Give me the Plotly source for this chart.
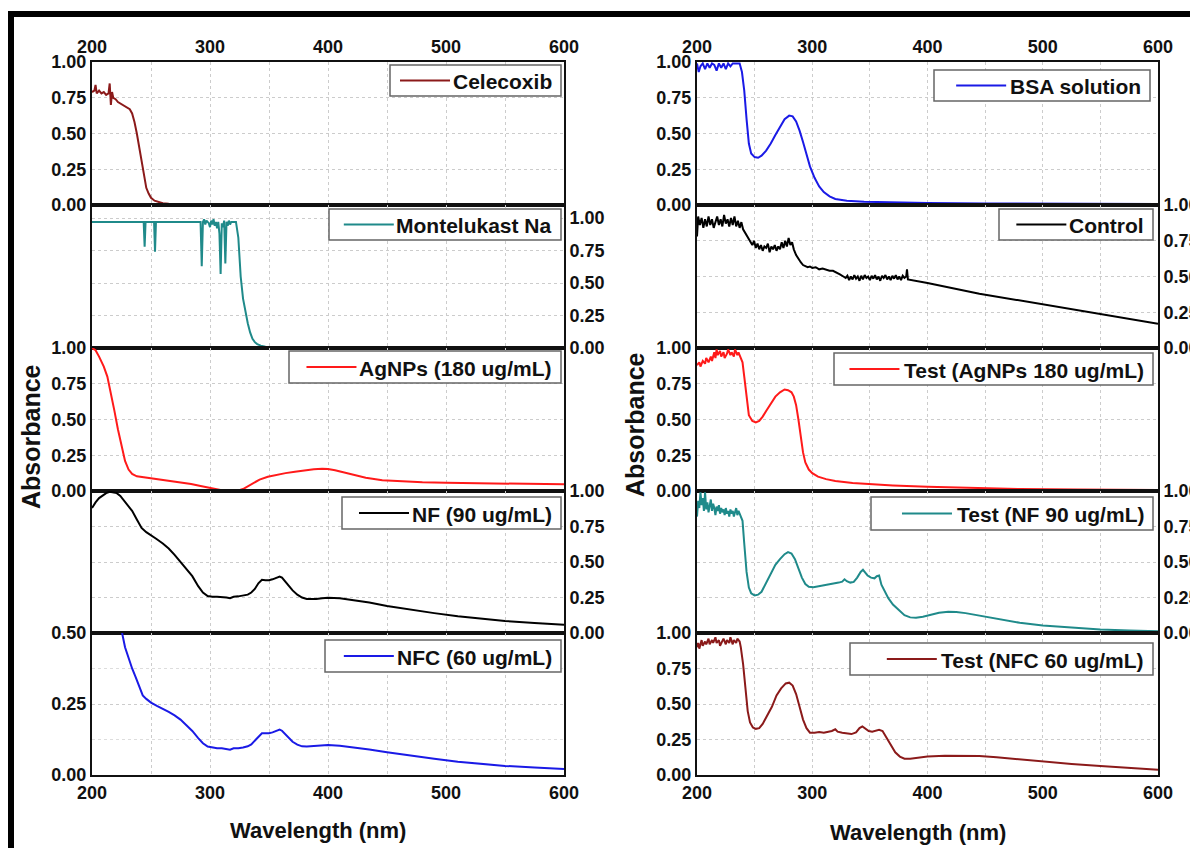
import plotly.graph_objects as go

# ---------------- data: (wavelength nm, absorbance) ----------------
celecoxib = [(200, 0.79), (202, 0.80), (203, 0.84), (204, 0.78), (206, 0.80), (208, 0.78), (210, 0.79),
             (212, 0.77), (214, 0.78), (215, 0.85), (216, 0.70), (217, 0.79), (218, 0.75), (220, 0.74),
             (222, 0.72), (224, 0.71), (226, 0.70), (228, 0.69), (230, 0.68), (232, 0.67), (234, 0.64),
             (236, 0.58), (238, 0.50), (240, 0.40), (242, 0.29), (244, 0.19), (246, 0.12), (248, 0.08),
             (250, 0.05), (253, 0.03), (256, 0.02), (260, 0.012), (265, 0.008), (270, 0.006),
             (300, 0.005), (400, 0.005), (500, 0.005), (600, 0.005)]

montelukast = [(200, 0.97), (243.8, 0.97), (244.6, 0.78), (245.4, 0.97), (252.6, 0.97), (253.4, 0.74),
               (254.2, 0.97), (292, 0.97), (293, 0.63), (294, 0.97), (295, 0.99), (296, 0.95), (297, 0.98),
               (299, 0.96), (300, 0.93), (301, 0.98), (302, 0.95), (303, 0.99), (304, 0.94), (305, 0.97),
               (306, 0.92), (307, 0.97), (308, 0.88), (309, 0.57), (310, 0.96), (311, 0.93), (312, 0.98),
               (313, 0.65), (314, 0.97), (315, 0.94), (316, 0.98), (317, 0.95), (318, 0.97), (322, 0.97),
               (324, 0.85), (326, 0.55), (328, 0.38), (330, 0.27), (332, 0.19), (334, 0.12), (336, 0.07),
               (338, 0.045), (340, 0.03), (343, 0.018), (347, 0.01), (360, 0.007), (600, 0.005)]

agnps = [(200, 1.0), (203, 0.985), (206, 0.94), (210, 0.87), (213, 0.80), (216, 0.69), (219, 0.56),
         (222, 0.43), (225, 0.31), (228, 0.21), (231, 0.15), (234, 0.12), (238, 0.103), (245, 0.095),
         (252, 0.089), (260, 0.08), (268, 0.068), (276, 0.058), (284, 0.049), (292, 0.035), (300, 0.02),
         (306, 0.008), (312, 0.002), (318, 0.0), (324, 0.004), (328, 0.014), (332, 0.033), (336, 0.054),
         (342, 0.08), (349, 0.1), (356, 0.113), (364, 0.125), (372, 0.135), (380, 0.145), (388, 0.152),
         (395, 0.156), (400, 0.154), (406, 0.145), (414, 0.128), (422, 0.11), (432, 0.092), (446, 0.075),
         (462, 0.067), (480, 0.061), (500, 0.057), (530, 0.053), (560, 0.05), (600, 0.047)]

nf = [(200, 0.88), (203, 0.92), (206, 0.95), (209, 0.97), (212, 0.985), (215, 0.995), (218, 0.99),
      (221, 0.985), (224, 0.965), (227, 0.935), (230, 0.90), (234, 0.86), (238, 0.80), (242, 0.74),
      (246, 0.71), (250, 0.685), (255, 0.66), (260, 0.63), (265, 0.595), (270, 0.55), (275, 0.5),
      (280, 0.45), (285, 0.4), (290, 0.33), (294, 0.285), (298, 0.26), (302, 0.255), (306, 0.256),
      (310, 0.255), (314, 0.25), (317, 0.245), (320, 0.255), (324, 0.258), (328, 0.262), (332, 0.27),
      (335, 0.285), (338, 0.31), (341, 0.35), (344, 0.375), (347, 0.372), (350, 0.372), (353, 0.378),
      (356, 0.388), (359, 0.398), (361, 0.39), (364, 0.36), (367, 0.33), (370, 0.3), (374, 0.27),
      (378, 0.25), (382, 0.24), (386, 0.238), (390, 0.24), (395, 0.245), (400, 0.248), (410, 0.245),
      (420, 0.235), (435, 0.215), (450, 0.19), (470, 0.163), (490, 0.14), (510, 0.118), (530, 0.1),
      (550, 0.085), (575, 0.07), (600, 0.058)]

nfc = [(200, 0.80), (210, 0.72), (218, 0.62), (222, 0.56), (225, 0.51), (228, 0.45), (231, 0.41),
       (234, 0.375), (237, 0.345), (240, 0.31), (243, 0.28), (246, 0.268), (250, 0.255), (255, 0.243),
       (260, 0.233), (265, 0.222), (270, 0.21), (275, 0.195), (280, 0.175), (285, 0.155), (290, 0.13),
       (294, 0.112), (298, 0.1), (302, 0.096), (306, 0.094), (310, 0.094), (314, 0.091), (317, 0.089),
       (320, 0.094), (324, 0.094), (328, 0.097), (332, 0.101), (335, 0.108), (338, 0.12), (341, 0.135),
       (344, 0.147), (347, 0.147), (350, 0.147), (353, 0.15), (356, 0.155), (359, 0.16), (361, 0.156),
       (364, 0.143), (367, 0.13), (370, 0.117), (374, 0.107), (378, 0.101), (382, 0.1), (386, 0.101),
       (390, 0.103), (395, 0.105), (400, 0.106), (410, 0.103), (420, 0.098), (435, 0.09), (450, 0.08),
       (470, 0.068), (490, 0.057), (510, 0.047), (530, 0.039), (550, 0.032), (575, 0.026), (600, 0.021)]

bsa = [(200, 0.99), (201.5, 0.93), (203, 0.97), (205, 0.99), (207, 0.95), (209, 0.99), (211, 0.96),
       (213, 0.99), (215, 0.98), (217, 0.94), (219, 0.99), (221, 0.96), (223, 0.99), (225, 0.95),
       (227, 0.99), (229, 0.97), (231, 0.99), (233, 0.99), (235, 0.99), (237, 0.99), (239, 0.93),
       (241, 0.8), (243, 0.6), (245, 0.43), (247, 0.36), (250, 0.335), (253, 0.33), (256, 0.345),
       (260, 0.38), (264, 0.43), (268, 0.49), (272, 0.55), (276, 0.6), (280, 0.625), (283, 0.62),
       (286, 0.585), (289, 0.52), (292, 0.44), (295, 0.35), (298, 0.27), (302, 0.19), (306, 0.13),
       (310, 0.09), (315, 0.06), (320, 0.042), (330, 0.03), (345, 0.022), (370, 0.017), (400, 0.014),
       (450, 0.011), (500, 0.009), (600, 0.007)]

control = [(200, 0.78), (201, 0.92), (202.5, 0.86), (204, 0.91), (205.5, 0.84), (207, 0.9), (208.5, 0.85),
           (210, 0.92), (211.5, 0.86), (213, 0.9), (214.5, 0.84), (216, 0.89), (217.5, 0.92), (219, 0.86),
           (220.5, 0.9), (222, 0.85), (223.5, 0.93), (225, 0.87), (226.5, 0.9), (228, 0.85), (229.5, 0.91),
           (231, 0.86), (232.5, 0.92), (234, 0.85), (235.5, 0.89), (237, 0.84), (238.5, 0.88), (240, 0.83),
           (242, 0.8), (244, 0.77), (246, 0.74), (248, 0.72), (249.5, 0.75), (251, 0.7), (252.5, 0.73),
           (254, 0.69), (255.5, 0.72), (257, 0.68), (258.5, 0.71), (260, 0.7), (261.5, 0.73), (263, 0.67),
           (264.5, 0.71), (266, 0.69), (267.5, 0.72), (269, 0.68), (270.5, 0.71), (272, 0.69), (273.5, 0.74),
           (275, 0.7), (276.5, 0.75), (278, 0.71), (279.5, 0.77), (281, 0.72), (282.5, 0.74), (284, 0.69),
           (286, 0.65), (288, 0.62), (290, 0.6), (292, 0.58), (294, 0.575), (296, 0.565), (298, 0.57),
           (300, 0.56), (303, 0.565), (306, 0.55), (309, 0.555), (312, 0.545), (315, 0.54), (318, 0.54),
           (321, 0.53), (324, 0.515), (327, 0.5), (329, 0.49), (330.5, 0.505), (332, 0.475), (333.5, 0.5),
           (335, 0.48), (336.5, 0.51), (338, 0.485), (339.5, 0.5), (341, 0.47), (342.5, 0.505), (344, 0.48),
           (345.5, 0.51), (347, 0.49), (348.5, 0.5), (350, 0.475), (351.5, 0.505), (353, 0.485),
           (354.5, 0.51), (356, 0.48), (357.5, 0.5), (359, 0.47), (360.5, 0.505), (362, 0.49), (363.5, 0.51),
           (365, 0.48), (366.5, 0.5), (368, 0.475), (369.5, 0.505), (371, 0.485), (372.5, 0.51), (374, 0.48),
           (375.5, 0.5), (377, 0.475), (378.5, 0.505), (380, 0.49), (381.5, 0.5), (382.2, 0.55), (383, 0.48),
           (400, 0.455), (445, 0.38), (500, 0.305), (545, 0.24), (600, 0.17)]

test_agnps = [(200, 0.88), (202, 0.9), (203, 0.87), (205, 0.91), (207, 0.89), (208, 0.93), (210, 0.9),
              (212, 0.94), (213, 0.91), (215, 0.97), (216, 0.93), (217, 0.99), (218, 0.95), (220, 0.98),
              (221, 0.94), (223, 0.97), (224, 0.93), (226, 0.96), (227, 0.99), (229, 0.95), (230, 0.97),
              (232, 0.94), (233, 0.99), (235, 0.95), (236, 0.97), (238, 0.93), (239.5, 0.9), (241, 0.8),
              (243, 0.64), (245, 0.53), (248, 0.49), (251, 0.48), (254, 0.49), (257, 0.52), (260, 0.56),
              (264, 0.61), (268, 0.66), (272, 0.69), (276, 0.71), (279, 0.705), (282, 0.69), (284, 0.66),
              (286, 0.6), (288, 0.5), (290, 0.38), (292, 0.27), (294, 0.2), (297, 0.15), (300, 0.125),
              (305, 0.1), (312, 0.083), (320, 0.07), (335, 0.056), (350, 0.047), (370, 0.039), (400, 0.029),
              (440, 0.02), (480, 0.014), (530, 0.01), (600, 0.007)]

test_nf = [(200, 0.82), (201, 0.93), (202, 0.88), (203, 0.99), (204, 0.9), (205, 0.95), (206, 0.86),
           (207, 0.99), (208, 0.87), (209, 0.92), (210, 0.85), (211, 0.9), (212, 0.94), (213, 0.86),
           (214, 0.91), (215, 0.88), (216, 0.83), (217, 0.89), (218, 0.86), (219, 0.9), (220, 0.84),
           (221, 0.88), (222, 0.85), (223, 0.87), (224, 0.83), (225, 0.88), (226, 0.84), (227, 0.86),
           (228, 0.82), (229, 0.87), (230, 0.84), (231, 0.86), (232, 0.82), (233, 0.85), (234, 0.88),
           (235, 0.83), (236, 0.86), (237, 0.84), (238, 0.82), (239.5, 0.79), (241, 0.63), (243, 0.43),
           (245, 0.32), (247, 0.28), (250, 0.265), (253, 0.27), (256, 0.29), (260, 0.35), (264, 0.42),
           (268, 0.48), (272, 0.52), (276, 0.555), (279, 0.57), (282, 0.56), (285, 0.52), (288, 0.45),
           (291, 0.39), (294, 0.345), (297, 0.325), (301, 0.323), (305, 0.328), (309, 0.335), (313, 0.342),
           (317, 0.345), (320, 0.35), (323, 0.355), (326, 0.362), (328, 0.378), (330, 0.365), (333, 0.355),
           (336, 0.36), (339, 0.39), (342, 0.43), (344, 0.445), (346, 0.425), (348, 0.405), (351, 0.39),
           (354, 0.385), (356, 0.4), (358, 0.405), (360, 0.34), (363, 0.29), (366, 0.245), (370, 0.2),
           (375, 0.16), (380, 0.125), (385, 0.11), (390, 0.108), (396, 0.115), (402, 0.128), (410, 0.142),
           (418, 0.15), (425, 0.148), (433, 0.14), (445, 0.122), (460, 0.097), (480, 0.072), (500, 0.053),
           (525, 0.037), (550, 0.025), (575, 0.017), (600, 0.012)]

test_nfc = [(200, 0.9), (201, 0.93), (202, 0.89), (204, 0.95), (205, 0.91), (207, 0.94), (208, 0.92),
            (210, 0.96), (211, 0.92), (213, 0.95), (214, 0.93), (216, 0.97), (217, 0.93), (219, 0.95),
            (220, 0.91), (222, 0.94), (223, 0.96), (225, 0.92), (226, 0.95), (228, 0.93), (229, 0.97),
            (231, 0.92), (232, 0.95), (234, 0.93), (235, 0.96), (237, 0.94), (238, 0.9), (240, 0.78),
            (242, 0.6), (244, 0.45), (246, 0.37), (248.5, 0.335), (251, 0.325), (254, 0.33), (257, 0.36),
            (261, 0.42), (265, 0.48), (269, 0.56), (273, 0.61), (277, 0.645), (280, 0.65), (283, 0.63),
            (286, 0.57), (289, 0.48), (292, 0.39), (295, 0.33), (298, 0.298), (302, 0.298), (306, 0.302),
            (310, 0.298), (314, 0.304), (317, 0.31), (320, 0.322), (322, 0.305), (326, 0.297), (330, 0.29),
            (334, 0.288), (338, 0.3), (341, 0.33), (343.5, 0.342), (346, 0.33), (349, 0.31), (352, 0.305),
            (355, 0.312), (358, 0.318), (361, 0.31), (364, 0.27), (368, 0.21), (372, 0.16), (376, 0.13),
            (380, 0.115), (385, 0.115), (392, 0.124), (400, 0.13), (415, 0.135), (430, 0.136), (445, 0.133),
            (460, 0.125), (480, 0.11), (500, 0.094), (525, 0.078), (550, 0.063), (575, 0.05), (600, 0.037)]

names = ["Celecoxib", "Montelukast Na", "AgNPs (180 ug/mL)", "NF (90 ug/mL)", "NFC (60 ug/mL)",
         "BSA solution", "Control", "Test (AgNPs 180 ug/mL)", "Test (NF 90 ug/mL)", "Test (NFC 60 ug/mL)"]
series = [celecoxib, montelukast, agnps, nf, nfc, bsa, control, test_agnps, test_nf, test_nfc]
x_tick_step = 100
y_tick_values = [0, 0.25, 0.5, 0.75, 1.0]

# ---------------- styling / layout ----------------
OFF = 8                      # page margin of the html body
W, H = 1198 - OFF, 848 - OFF
FONT = "Liberation Sans, Arial, Helvetica, sans-serif"


def px(x):
    return (x - OFF) / W


def py(y):
    return 1 - (y - OFF) / H


# approximate bold glyph widths (em) used to place the legend line sample just before the text
GLYPH = {"T": .611, "e": .556, "s": .556, "t": .333, " ": .278, "(": .333, ")": .333, "N": .722,
         "F": .611, "C": .722, "u": .611, "g": .611, "/": .278, "m": .889, "L": .611, "A": .722,
         "P": .667, "l": .278, "c": .556, "o": .611, "x": .556, "i": .278, "b": .611, "M": .833,
         "n": .611, "k": .556, "a": .556, "B": .722, "S": .667, "r": .389}


def text_width(s, size):
    return sum(GLYPH.get(ch, .556) for ch in s) * size


colors = ["#8b1a1a", "#1f8a8a", "#ff1a1a", "#000000", "#1a1ae6",
          "#1a1ae6", "#000000", "#ff1a1a", "#1f8a8a", "#8b1a1a"]
yranges = [[0, 1.0], [0, 1.1], [0, 1.0], [0, 1.0], [0, 0.5],
           [0, 1.0], [0, 1.0], [0, 1.0], [0, 1.0], [0, 1.0]]
ysides = ["left", "right", "left", "right", "left",
          "left", "right", "left", "right", "left"]
row_top = [62, 205, 348, 491, 633]
row_bot = [205, 348, 491, 633, 775]
col_x = [(92, 564), (697, 1158)]
# legend boxes: left, top, right, bottom (page pixels)
leg_box = [(390, 65, 561, 96), (329, 209, 561, 240), (289, 351, 561, 383), (342, 497, 561, 529),
           (325, 640, 561, 672), (934, 70, 1150, 101), (999, 209, 1153, 240), (834, 353, 1153, 385),
           (871, 497, 1153, 530), (850, 643, 1153, 675)]
LEG_SIZE = 21

fig = go.Figure()
layout = dict(template="none", width=W, height=H,
              margin=dict(l=0, r=0, t=0, b=0, autoexpand=False),
              paper_bgcolor="white", plot_bgcolor="white", showlegend=False)

tickfont = dict(family=FONT, size=18, color="#111111", weight="bold")
legfont = dict(family=FONT, size=LEG_SIZE, color="#111111", weight="bold")
shapes = []
annotations = []

for i in range(10):
    col, row = divmod(i, 5)
    k = i + 1
    xa = "xaxis" if k == 1 else f"xaxis{k}"
    ya = "yaxis" if k == 1 else f"yaxis{k}"
    xr = "x" if k == 1 else f"x{k}"
    yr = "y" if k == 1 else f"y{k}"
    x0, x1 = col_x[col]
    xaxis = dict(domain=[px(x0), px(x1)], anchor=yr, range=[200, 600], automargin=False,
                 tickmode="linear", tick0=200, dtick=x_tick_step,
                 showline=True, mirror=True, linecolor="#111111", linewidth=2,
                 ticks="", zeroline=False, tickfont=tickfont,
                 showgrid=True, gridcolor="#cccccc", gridwidth=1, griddash="dot",
                 minor=dict(dtick=50, tick0=200, showgrid=True, gridcolor="#cccccc", griddash="dot"))
    if row == 0:
        xaxis.update(side="top", showticklabels=True)
    elif row == 4:
        xaxis.update(side="bottom", showticklabels=True)
    else:
        xaxis.update(showticklabels=False)
    lo, hi = yranges[i]
    tv = [v for v in y_tick_values if v <= hi + 1e-9]
    yaxis = dict(domain=[py(row_bot[row]), py(row_top[row])], anchor=xr, automargin=False,
                 range=[lo, hi], side=ysides[i], tickmode="array", tickvals=tv,
                 ticktext=[f"{v:.2f}" for v in tv],
                 showline=True, mirror=True, linecolor="#111111", linewidth=2,
                 ticks="", zeroline=False, tickfont=tickfont,
                 showgrid=True, gridcolor="#cccccc", gridwidth=1, griddash="dot")
    if hi == 0.5:
        yaxis["minor"] = dict(dtick=0.125, tick0=0, showgrid=True, gridcolor="#dddddd", griddash="dot")
    layout[xa] = xaxis
    layout[ya] = yaxis
    xs = [p[0] for p in series[i]]
    ys = [p[1] for p in series[i]]
    fig.add_trace(go.Scatter(x=xs, y=ys, mode="lines", name=names[i],
                             line=dict(color=colors[i], width=2), xaxis=xr, yaxis=yr))
    # legend box drawn per panel
    bl, bt, br, bb = leg_box[i]
    shapes.append(dict(type="rect", xref="paper", yref="paper", x0=px(bl), x1=px(br),
                       y0=py(bb), y1=py(bt), fillcolor="white",
                       line=dict(color="#666666", width=1.5), layer="above"))
    ym = (bt + bb) / 2
    text_right = br - 7
    line_end = max(text_right - text_width(names[i], LEG_SIZE) - 5, bl + 60)
    shapes.append(dict(type="line", xref="paper", yref="paper", x0=px(line_end - 50), x1=px(line_end),
                       y0=py(ym), y1=py(ym), line=dict(color=colors[i], width=2), layer="above"))
    annotations.append(dict(text=names[i], x=px(text_right), y=py(ym + 1), xref="paper", yref="paper",
                            xanchor="right", yanchor="middle", showarrow=False, font=legfont))

title_font = dict(family=FONT, size=22, color="#111111", weight="bold")
abs_font = dict(family=FONT, size=25, color="#111111", weight="bold")
annotations += [
    dict(text="Absorbance", x=px(31), y=py(437), xref="paper", yref="paper", xanchor="center",
         yanchor="middle", textangle=-90, showarrow=False, font=abs_font),
    dict(text="Absorbance", x=px(635), y=py(425), xref="paper", yref="paper", xanchor="center",
         yanchor="middle", textangle=-90, showarrow=False, font=abs_font),
    dict(text="Wavelength (nm)", x=px(318), y=py(830), xref="paper", yref="paper", xanchor="center",
         yanchor="middle", showarrow=False, font=title_font),
    dict(text="Wavelength (nm)", x=px(918), y=py(832), xref="paper", yref="paper", xanchor="center",
         yanchor="middle", showarrow=False, font=title_font),
]
shapes.append(dict(type="rect", xref="paper", yref="paper", x0=px(11), x1=1.1, y0=-0.1, y1=py(14),
                   line=dict(color="#000000", width=6), fillcolor="rgba(0,0,0,0)"))
layout["annotations"] = annotations
layout["shapes"] = shapes
fig.update_layout(**layout)
fig.write_html("out.html")
